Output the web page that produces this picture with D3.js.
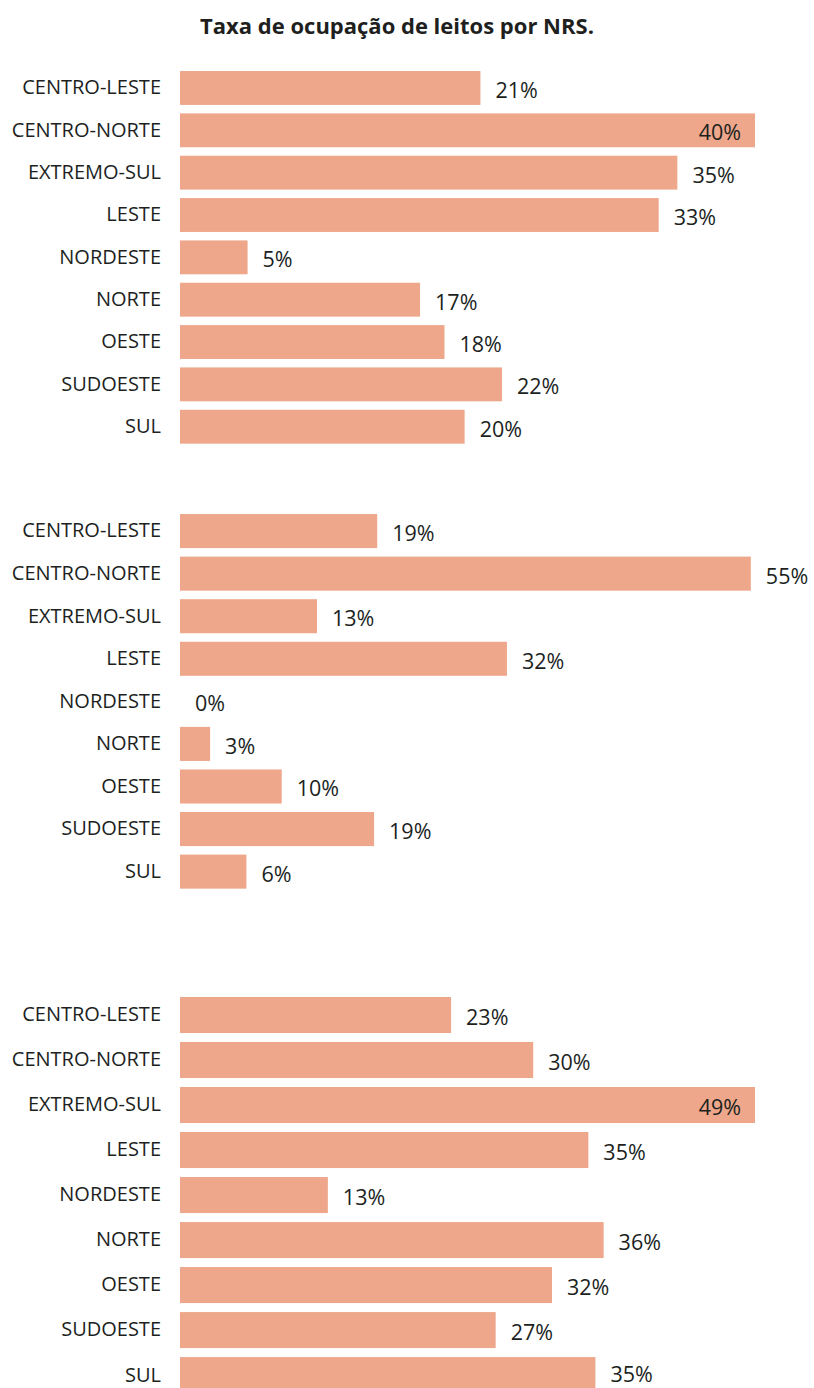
<!DOCTYPE html>
<html><head><meta charset="utf-8">
<script src="https://cdn.jsdelivr.net/npm/d3@7"></script>
<style>body{margin:0;background:#fff}svg{display:block}</style>
</head><body>
<script>
const title = "Taxa de ocupação de leitos por NRS.";
const categories = ["CENTRO-LESTE","CENTRO-NORTE","EXTREMO-SUL","LESTE","NORDESTE","NORTE","OESTE","SUDOESTE","SUL"];
const panel1 = [20.9, 40.0, 34.6, 33.3, 4.7, 16.7, 18.4, 22.4, 19.8];
const panel2 = [19.0, 55.0, 13.2, 31.5, 0.0, 2.9, 9.8, 18.7, 6.4];
const panel3 = [23.1, 30.1, 49.0, 34.8, 12.6, 36.1, 31.7, 26.9, 35.4];
const panels = [panel1, panel2, panel3];
const domainMax = [40, 55.4, 49];

const W = 814, H = 1388;
const color = "#EEA78A";
const ink = "#201F1E";
const font = "'Open Sans', 'Segoe UI', sans-serif";
const layout = [
  {top: 70.2, bottom: 444.5},
  {top: 513.2, bottom: 889.5},
  {top: 996.1, bottom: 1394}
];

const svg = d3.select("body").append("svg").attr("width", W).attr("height", H);
svg.append("text").attr("x", 397).attr("y", 34).attr("text-anchor", "middle")
  .attr("font-family", font).attr("font-weight", 700).attr("font-size", 22)
  .attr("fill", ink).text(title);

panels.forEach((vals, i) => {
  const L = layout[i];
  const x = d3.scaleLinear().domain([0, domainMax[i]]).range([180, 755]);
  const y = d3.scaleBand().domain(categories).range([L.top, L.bottom]).paddingInner(0.2).paddingOuter(0.02);
  const g = svg.append("g");
  const data = categories.map((c, k) => ({c, v: vals[k]}));
  g.selectAll("rect").data(data).join("rect")
    .attr("x", x(0)).attr("y", d => y(d.c))
    .attr("width", d => x(d.v) - x(0)).attr("height", y.bandwidth())
    .attr("fill", color);
  const yAxis = d3.axisLeft(y).tickSize(0).tickPadding(19);
  const ag = g.append("g").attr("transform", `translate(${x(0)},0)`).call(yAxis);
  ag.select(".domain").remove();
  ag.selectAll("text").attr("font-family", font).attr("font-size", 20).attr("fill", ink);
  g.selectAll("text.val").data(data).join("text").attr("class", "val")
    .attr("font-family", font).attr("font-size", 21.5).attr("fill", ink)
    .attr("y", d => Math.min(y(d.c) + y.bandwidth() / 2 + 10, H - 6))
    .text(d => d3.format(".0f")(d.v) + "%")
    .each(function(d) {
      const w = this.getComputedTextLength();
      const end = x(d.v);
      if (end + 14 + w > 811) {
        d3.select(this).attr("x", end - 14).attr("text-anchor", "end");
      } else {
        d3.select(this).attr("x", end + 15).attr("text-anchor", "start");
      }
    });
});
</script>
</body></html>
